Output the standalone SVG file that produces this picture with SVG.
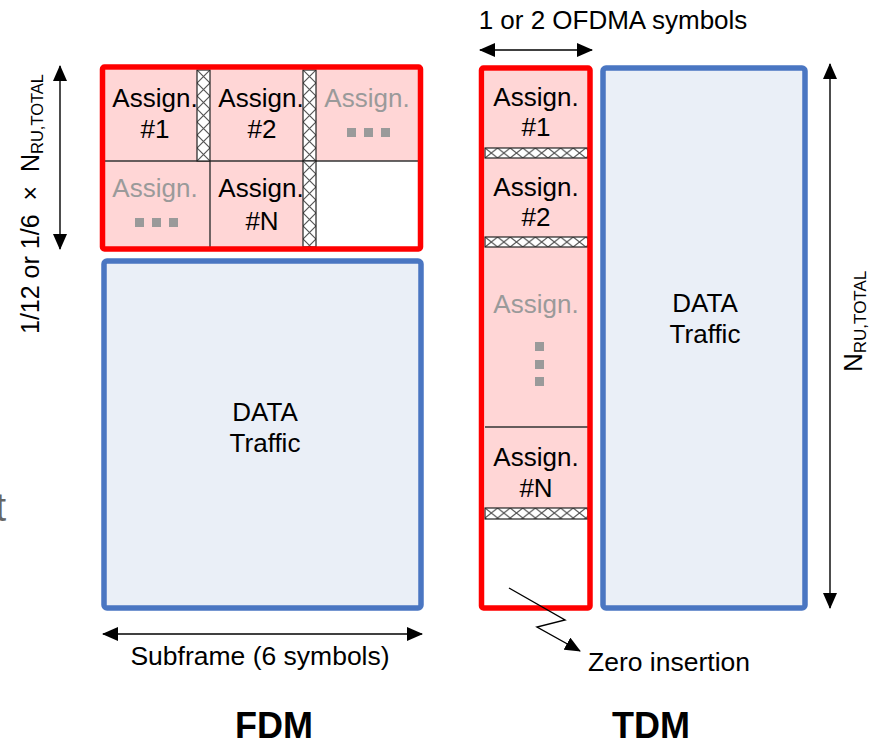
<svg xmlns="http://www.w3.org/2000/svg" width="875" height="742" viewBox="0 0 875 742">
<style>
text{font-family:"Liberation Sans",Arial,sans-serif;fill:#000}
.lbl{font-size:26px;text-anchor:middle}
.gray{fill:#9a9a9a}
.dot{fill:#9a9a9a}
.pink{fill:#ffd6d6}
.red{fill:none;stroke:#ff0000;stroke-width:5.5;stroke-linejoin:round}
.blue{fill:#eaeff7;stroke:#4a76c2;stroke-width:5.5;stroke-linejoin:round}
.grid{stroke:#333;stroke-width:1.4;fill:none}
.hbord{fill:none;stroke:#222;stroke-width:1.2}
.arr{stroke:#000;stroke-width:1.4;fill:none}
.title{font-size:36px;font-weight:bold;text-anchor:middle}
</style>
<defs>
<pattern id="hv" patternUnits="userSpaceOnUse" width="13" height="13">
<rect width="13" height="13" fill="#fff"/>
<path d="M0,0L13,13M13,0L0,13" stroke="#555" stroke-width="1.2"/>
</pattern>
<pattern id="hh" patternUnits="userSpaceOnUse" width="12.6" height="10">
<rect width="12.6" height="10" fill="#fff"/>
<path d="M0,0L12.6,10M12.6,0L0,10" stroke="#555" stroke-width="1.2"/>
</pattern>
<marker id="ah" markerUnits="userSpaceOnUse" markerWidth="16" markerHeight="14" refX="15" refY="7" orient="auto-start-reverse">
<path d="M0,0L16,7L0,14z" fill="#000"/>
</marker>
</defs>

<text x="-5" y="521" style="font-size:40px;fill:#666">t</text>

<g id="fdm-control">
<rect x="105" y="70" width="313" height="177" class="pink"/>
<rect x="316" y="161" width="102" height="86" fill="#fff"/>
<line x1="105" y1="161" x2="418" y2="161" class="grid"/>
<line x1="210" y1="161" x2="210" y2="247" class="grid"/>
<g transform="translate(197,70)"><rect width="13" height="91" fill="url(#hv)"/><rect width="13" height="91" class="hbord"/></g>
<g transform="translate(303,70)"><rect width="13" height="91" fill="url(#hv)"/><rect width="13" height="91" class="hbord"/></g>
<g transform="translate(303,161)"><rect width="13" height="86" fill="url(#hv)"/><rect width="13" height="86" class="hbord"/></g>
<text class="lbl" x="155" y="107">Assign.</text>
<text class="lbl" x="155" y="138">#1</text>
<text class="lbl" x="261" y="107">Assign.</text>
<text class="lbl" x="262" y="138">#2</text>
<text class="lbl gray" x="367" y="107">Assign.</text>
<rect class="dot" x="347" y="128" width="9" height="9"/><rect class="dot" x="364" y="128" width="9" height="9"/><rect class="dot" x="381" y="128" width="9" height="9"/>
<text class="lbl gray" x="155" y="197">Assign.</text>
<rect class="dot" x="135" y="218" width="9" height="9"/><rect class="dot" x="152" y="218" width="9" height="9"/><rect class="dot" x="169" y="218" width="9" height="9"/>
<text class="lbl" x="261" y="197">Assign.</text>
<text class="lbl" x="262" y="230">#N</text>
<rect x="102.5" y="67" width="318" height="182" rx="2" class="red"/>
</g>

<g id="fdm-data">
<rect x="104" y="261" width="317" height="347" rx="3" class="blue"/>
<text class="lbl" x="265" y="421">DATA</text>
<text class="lbl" x="265" y="452">Traffic</text>
</g>

<g id="tdm-control">
<rect x="485" y="71" width="103" height="437" class="pink"/>
<rect x="485" y="519" width="103" height="87" fill="#fff"/>
<g transform="translate(485,148)"><rect width="103" height="10" fill="url(#hh)"/><rect width="103" height="10" class="hbord"/></g>
<g transform="translate(485,237)"><rect width="103" height="10" fill="url(#hh)"/><rect width="103" height="10" class="hbord"/></g>
<g transform="translate(485,508)"><rect width="103" height="11" fill="url(#hh)"/><rect width="103" height="11" class="hbord"/></g>
<line x1="485" y1="427" x2="588" y2="427" class="grid"/>
<text class="lbl" x="536" y="106">Assign.</text>
<text class="lbl" x="536" y="136">#1</text>
<text class="lbl" x="536" y="196">Assign.</text>
<text class="lbl" x="536" y="226">#2</text>
<text class="lbl gray" x="536" y="313">Assign.</text>
<rect class="dot" x="535" y="342" width="9" height="9"/><rect class="dot" x="535" y="360" width="9" height="9"/><rect class="dot" x="535" y="377" width="9" height="9"/>
<text class="lbl" x="536" y="466">Assign.</text>
<text class="lbl" x="536" y="497">#N</text>
<rect x="481.5" y="68" width="108.5" height="540" rx="2" class="red"/>
</g>

<g id="tdm-data">
<rect x="603" y="68" width="202" height="540" rx="3" class="blue"/>
<text class="lbl" x="705" y="312">DATA</text>
<text class="lbl" x="705" y="343">Traffic</text>
</g>

<g id="connectors">
<line x1="60" y1="66" x2="60" y2="249" class="arr" marker-start="url(#ah)" marker-end="url(#ah)"/>
<line x1="830" y1="64" x2="830" y2="608" class="arr" marker-start="url(#ah)" marker-end="url(#ah)"/>
<line x1="480" y1="50" x2="592" y2="50" class="arr" marker-start="url(#ah)" marker-end="url(#ah)"/>
<line x1="103" y1="634" x2="422" y2="634" class="arr" marker-start="url(#ah)" marker-end="url(#ah)"/>
<polyline points="509,588 565,620 537,627 580,651" class="arr" marker-end="url(#ah)"/>
</g>

<g id="labels">
<text transform="translate(39,334) rotate(-90)" style="font-size:25px;white-space:pre">1/12 or 1/6  ×  N<tspan style="font-size:16.5px" dy="4">RU,TOTAL</tspan></text>
<text transform="translate(862,372) rotate(-90)" style="font-size:26px">N<tspan style="font-size:17px" dy="4">RU,TOTAL</tspan></text>
<text x="613" y="29" style="font-size:26px;text-anchor:middle">1 or 2 OFDMA symbols</text>
<text x="260" y="665" style="font-size:26.5px;text-anchor:middle">Subframe (6 symbols)</text>
<text x="588" y="671" style="font-size:26.5px">Zero insertion</text>
<text class="title" x="274" y="738">FDM</text>
<text class="title" x="651" y="738">TDM</text>
</g>
</svg>
